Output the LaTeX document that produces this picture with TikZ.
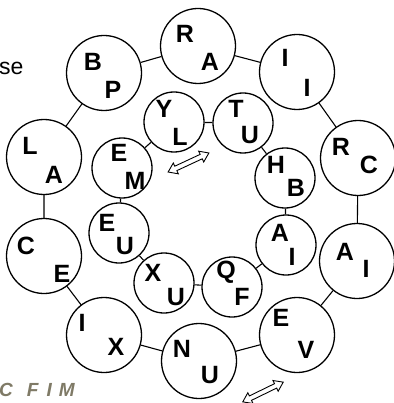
\documentclass[tikz,border=0pt]{standalone}
\usepackage{fontspec}
\setmainfont{Liberation Sans}
\usetikzlibrary{shapes.arrows}
\definecolor{Olive}{HTML}{7F7A66}

\begin{document}
\begin{tikzpicture}[x=1pt,y=-1pt,
  outerball/.style={circle,draw,line width=1.3pt,inner sep=0pt,minimum size=75pt},
  innerball/.style={circle,draw,line width=1.3pt,inner sep=0pt,minimum size=60pt},
  letter/.style={inner sep=0pt,font=\fontsize{25}{25}\selectfont\bfseries},
  link/.style={line width=1.1pt},
  swaparrow/.style={double arrow,draw,line width=0.9pt,inner sep=2pt,minimum height=45pt,
    double arrow head extend=3.5pt,double arrow tip angle=70}]
  \useasboundingbox (0,0) rectangle (393,403);

  % outer ring
  \node[outerball] (ra) at (198,46) {};
  \node[outerball] (ii) at (297,72) {};
  \node[outerball] (rc) at (358,158) {};
  \node[outerball] (ai) at (357,261) {};
  \node[outerball] (ev) at (297,335) {};
  \node[outerball] (nu) at (199,361) {};
  \node[outerball] (ix) at (104,335) {};
  \node[outerball] (ce) at (44,256) {};
  \node[outerball] (la) at (44,157) {};
  \node[outerball] (bp) at (104,73) {};
  \draw[link] (ra) -- (ii) -- (rc) -- (ai) -- (ev) -- (nu) -- (ix) -- (ce) -- (la) -- (bp) -- (ra);

  % inner ring
  \node[innerball] (yl) at (174,122) {};
  \node[innerball] (tu) at (243,123) {};
  \node[innerball] (hb) at (285,178) {};
  \node[innerball] (ia) at (286,245) {};
  \node[innerball] (qf) at (232,287) {};
  \node[innerball] (xu) at (164,283) {};
  \node[innerball] (eu) at (119,233) {};
  \node[innerball] (em) at (122,168) {};
  \draw[link] (yl) -- (tu) -- (hb) -- (ia) -- (qf) -- (xu) -- (eu) -- (em) -- (yl);

  % letters, outer
  \node[letter] (ra1) at ([shift={(-13,-12)}]ra.center) {R};
  \node[letter] (ra2) at ([shift={(12,16)}]ra.center) {A};
  \node[letter] (ii1) at ([shift={(-12,-14)}]ii.center) {I};
  \node[letter] (ii2) at ([shift={(10,16)}]ii.center) {I};
  \node[letter] (rc1) at ([shift={(-17,-11)}]rc.center) {R};
  \node[letter] (rc2) at ([shift={(11,7)}]rc.center) {C};
  \node[letter] (ai1) at ([shift={(-12,-9)}]ai.center) {A};
  \node[letter] (ai2) at ([shift={(9,8)}]ai.center) {I};
  \node[letter] (ev1) at ([shift={(-16,-17)}]ev.center) {E};
  \node[letter] (ev2) at ([shift={(9,15)}]ev.center) {V};
  \node[letter] (nu1) at ([shift={(-17,-12)}]nu.center) {N};
  \node[letter] (nu2) at ([shift={(11,14)}]nu.center) {U};
  \node[letter] (ix1) at ([shift={(-22,-12)}]ix.center) {I};
  \node[letter] (ix2) at ([shift={(12,12)}]ix.center) {X};
  \node[letter] (ce1) at ([shift={(-18,-10)}]ce.center) {C};
  \node[letter] (ce2) at ([shift={(18,18)}]ce.center) {E};
  \node[letter] (la1) at ([shift={(-14,-11)}]la.center) {L};
  \node[letter] (la2) at ([shift={(10,18)}]la.center) {A};
  \node[letter] (bp1) at ([shift={(-11,-11)}]bp.center) {B};
  \node[letter] (bp2) at ([shift={(9,17)}]bp.center) {P};

  % letters, inner
  \node[letter] (yl1) at ([shift={(-10,-13)}]yl.center) {Y};
  \node[letter] (yl2) at ([shift={(6,15)}]yl.center) {L};
  \node[letter] (tu1) at ([shift={(-7,-14)}]tu.center) {T};
  \node[letter] (tu2) at ([shift={(7,12)}]tu.center) {U};
  \node[letter] (hb1) at ([shift={(-9,-13)}]hb.center) {H};
  \node[letter] (hb2) at ([shift={(11,10)}]hb.center) {B};
  \node[letter] (ia1) at ([shift={(-6,-12)}]ia.center) {A};
  \node[letter] (ia2) at ([shift={(6,12)}]ia.center) {I};
  \node[letter] (qf1) at ([shift={(-6,-15)}]qf.center) {Q};
  \node[letter] (qf2) at ([shift={(10,10)}]qf.center) {F};
  \node[letter] (xu1) at ([shift={(-11,-10)}]xu.center) {X};
  \node[letter] (xu2) at ([shift={(12,14)}]xu.center) {U};
  \node[letter] (eu1) at ([shift={(-12,-10)}]eu.center) {E};
  \node[letter] (eu2) at ([shift={(6,13)}]eu.center) {U};
  \node[letter] (em1) at ([shift={(-3,-15)}]em.center) {E};
  \node[letter] (em2) at ([shift={(13,13)}]em.center) {M};

  % arrows and stray text
  \node[swaparrow,rotate=25] (midarrow) at (188.5,162.5) {};
  \node[swaparrow,rotate=26] (lowarrow) at (263,392) {};
  \node[anchor=base west,inner sep=0pt,font=\fontsize{23}{23}\selectfont] (cut) at (-1,75) {se};
  \node[anchor=base west,inner sep=0pt,text=Olive,font=\fontsize{19}{19}\selectfont\bfseries\itshape]
    (code) at (-1,396) {C\hspace{14pt}F\hspace{8pt}I\hspace{7pt}M};
\end{tikzpicture}
\end{document}
